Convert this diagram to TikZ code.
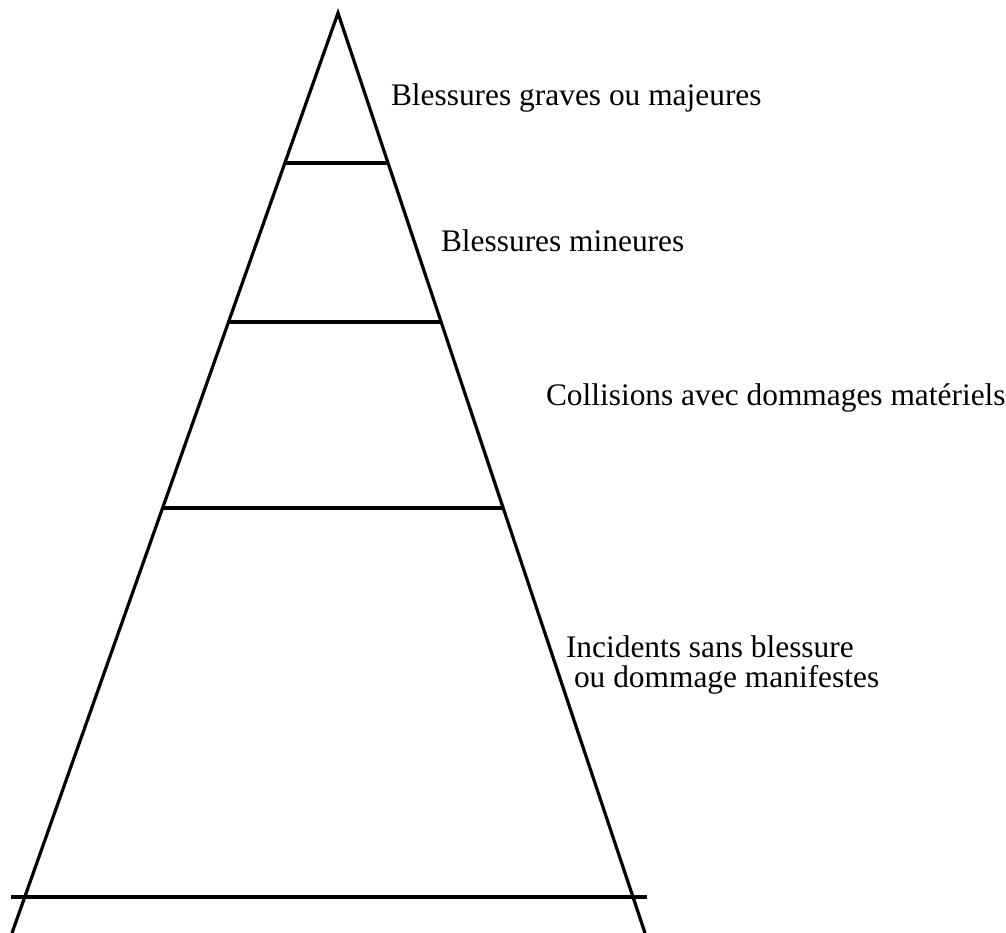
\documentclass[tikz,border=0pt]{standalone}
\usepackage{fontspec}
\setmainfont{Liberation Serif}
\begin{document}
\begin{tikzpicture}[x=1pt,y=-1pt,
  edge/.style={line width=3.2pt,line cap=butt},
  lbl/.style={anchor=base west,inner sep=0pt,outer sep=0pt,font=\fontsize{31.4}{30}\selectfont}]
\useasboundingbox (0,0) rectangle (1006,933);
\coordinate (apex) at (338,13);
\coordinate (lb) at (12,933);
\coordinate (rb) at (645,933);
\draw[edge,line join=miter] (lb) -- (apex) -- (rb);
\coordinate (l1) at (285,163); \coordinate (r1) at (387,163);
\coordinate (l2) at (228,322); \coordinate (r2) at (440,322);
\coordinate (l3) at (164,508); \coordinate (r3) at (503,508);
\coordinate (l4) at (11,897);  \coordinate (r4) at (647,897);
\draw[edge] (l1) -- (r1);
\draw[edge] (l2) -- (r2);
\draw[edge] (l3) -- (r3);
\draw[edge] (l4) -- (r4);
\node[lbl] (t1) at (391,106) {Blessures graves ou majeures};
\node[lbl] (t2) at (441,252) {Blessures mineures};
\node[lbl] (t3) at (546,405) {Collisions avec dommages matériels};
\node[lbl] (t4a) at (566,657) {Incidents sans blessure};
\node[lbl] (t4b) at (574,687) {ou dommage manifestes};
\end{tikzpicture}
\end{document}
